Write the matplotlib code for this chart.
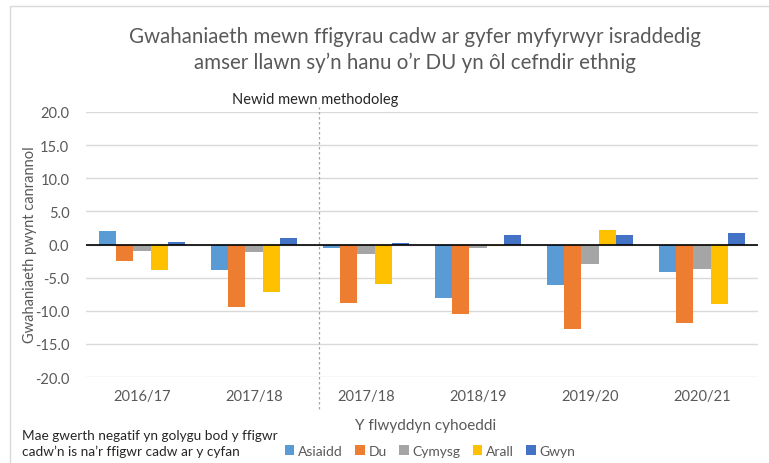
import numpy as np
import matplotlib.pyplot as plt
from matplotlib.patches import Rectangle

plt.rcParams['font.family'] = ['Lato', 'DejaVu Sans']

years = ["2016/17", "2017/18", "2017/18", "2018/19", "2019/20", "2020/21"]
groups = ["Asiaidd", "Du", "Cymysg", "Arall", "Gwyn"]
asiaidd = [2.0, -3.9, -0.6, -8.1, -6.1, -4.2]
du = [-2.5, -9.5, -8.8, -10.5, -12.7, -11.8]
cymysg = [-1.0, -1.2, -1.5, -0.55, -3.0, -3.7]
arall = [-3.8, -7.1, -5.9, -0.3, 2.2, -9.0]
gwyn = [0.35, 1.0, 0.2, 1.4, 1.5, 1.8]
colours = ["#5B9BD5", "#ED7D31", "#A5A5A5", "#FFC000", "#4472C4"]

txt = "#595959"
W, H = 769, 464
fig = plt.figure(figsize=(W / 100, H / 100), dpi=100)
fig.patches.append(Rectangle((10 / W, -0.1), 1.2, 1 - 7 / H + 0.1, transform=fig.transFigure,
                             fill=False, edgecolor="#D9D9D9", lw=1))
ax = fig.add_axes([86 / W, 1 - 378 / H, 672 / W, 265 / H])

x = np.arange(len(years))
bw = 0.155
series = [asiaidd, du, cymysg, arall, gwyn]
for i, (name, vals) in enumerate(zip(groups, series)):
    ax.bar(x + (i - 2) * bw, vals, bw, color=colours[i], label=name, zorder=3)

ax.set_xlim(-0.5, len(years) - 0.5)
ax.set_ylim(-20, 20)
ax.set_yticks(np.arange(-20, 21, 5))
ax.set_yticklabels([f"{v:.1f}" for v in np.arange(-20, 21, 5)])
ax.set_xticks(x)
ax.set_xticklabels(years)
ax.tick_params(length=0, colors=txt, labelsize=10.5, pad=9)
ax.tick_params(axis="y", pad=12)
ax.grid(axis="y", color="#D9D9D9", lw=1, zorder=0)
ax.axhline(0, color="black", lw=1.2, zorder=4)
for s in ax.spines.values():
    s.set_visible(False)

ax.axvline(1.58, color="#A6A6A6", lw=0.9, ls=(0, (2, 2)), ymin=-0.12, ymax=1.02, clip_on=False, zorder=2)
fig.text(315 / W, 1 - 100 / H, "Newid mewn methodoleg", ha="center", va="center", fontsize=10.5, color="#262626")

fig.text(415 / W, 1 - 50 / H, "Gwahaniaeth mewn ffigyrau cadw ar gyfer myfyrwyr israddedig\namser llawn sy\u2019n hanu o\u2019r DU yn \u00f4l cefndir ethnig",
         ha="center", va="center", fontsize=14.8, color=txt, linespacing=1.4)
fig.text(30 / W, 1 - 245 / H, "Gwahaniaeth pwynt canrannol", rotation=90, ha="center", va="center",
         fontsize=10.5, color=txt)
fig.text(426 / W, 1 - 426 / H, "Y flwyddyn cyhoeddi", ha="center", va="center", fontsize=11, color=txt)
fig.text(22 / W, 1 - 444 / H, "Mae gwerth negatif yn golygu bod y ffigwr\ncadw\u2019n is na\u2019r ffigwr cadw ar y cyfan",
         ha="left", va="center", fontsize=9.8, color="#262626", linespacing=1.35)

fig.legend(loc="center", bbox_to_anchor=(430 / W, 1 - 452 / H), ncol=5, frameon=False,
           fontsize=10, labelcolor=txt, handlelength=0.7, handleheight=0.7, handletextpad=0.25,
           columnspacing=0.9)

fig.savefig("out.png", dpi=100)
